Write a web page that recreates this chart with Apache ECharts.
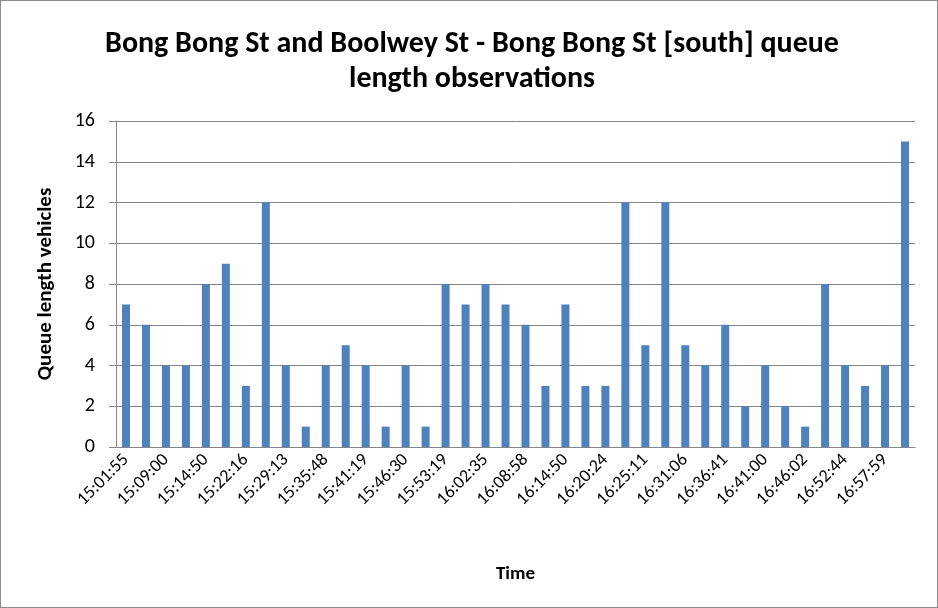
<!DOCTYPE html>
<html lang="en">
<head>
    <meta charset="UTF-8">
    <title>Bong Bong St queue length</title>
    <script src="https://cdn.jsdelivr.net/npm/echarts@6.0.0/dist/echarts.min.js"></script>
    <style>
        html, body { margin: 0; padding: 0; background: #fff; }
        #chart { width: 938px; height: 608px; box-sizing: border-box; border: 1px solid #8c8c8c; }
    </style>
</head>
<body>
    <div id="chart"></div>
    <script>
        // visible time labels (every second observation is labelled)
        const shownTimes = ['15:01:55', '15:09:00', '15:14:50', '15:22:16', '15:29:13', '15:35:48',
            '15:41:19', '15:46:30', '15:53:19', '16:02:35', '16:08:58', '16:14:50', '16:20:24',
            '16:25:11', '16:31:06', '16:36:41', '16:41:00', '16:46:02', '16:52:44', '16:57:59'];

        const queueLength = [7, 6, 4, 4, 8, 9, 3, 12, 4, 1, 4, 5, 4, 1, 4, 1, 8, 7, 8, 7,
            6, 3, 7, 3, 3, 12, 5, 12, 5, 4, 6, 2, 4, 2, 1, 8, 4, 3, 4, 15];

        const yTicks = [0, 2, 4, 6, 8, 10, 12, 14, 16];

        // unlabelled observations get an empty category name
        const categories = queueLength.map((v, i) => (i % 2 === 0 ? shownTimes[i / 2] : ''));

        const font = 'Carlito, "Liberation Sans", Arial, sans-serif';
        const chart = echarts.init(document.getElementById('chart'));

        chart.setOption({
            animation: false,
            title: {
                text: 'Bong Bong St and Boolwey St - Bong Bong St [south] queue\nlength observations',
                left: 466,
                textAlign: 'center',
                top: 21,
                textStyle: { fontFamily: font, fontSize: 30, fontWeight: 'bold', color: '#000', lineHeight: 35 }
            },
            grid: { left: 115, right: 22, top: 120, bottom: 160, containLabel: false },
            xAxis: {
                type: 'category',
                data: categories,
                name: 'Time',
                nameLocation: 'middle',
                nameGap: 118,
                nameTextStyle: { fontFamily: font, fontSize: 19, fontWeight: 'bold', color: '#000' },
                axisLine: { lineStyle: { color: '#868686' } },
                axisTick: { show: false },
                axisLabel: {
                    interval: 1,
                    rotate: 45,
                    fontFamily: font,
                    fontSize: 18,
                    color: '#000',
                    margin: 10
                }
            },
            yAxis: {
                type: 'value',
                min: yTicks[0],
                max: yTicks[yTicks.length - 1],
                interval: 2,
                name: 'Queue length vehicles',
                nameLocation: 'middle',
                nameGap: 60,
                nameTextStyle: { fontFamily: font, fontSize: 21, fontWeight: 'bold', color: '#000' },
                axisLine: { show: true, lineStyle: { color: '#868686' } },
                axisTick: { show: true, length: 7, lineStyle: { color: '#868686' } },
                splitLine: { lineStyle: { color: '#868686' } },
                axisLabel: { fontFamily: font, fontSize: 20, color: '#000', margin: 21 }
            },
            series: [{
                type: 'bar',
                data: queueLength,
                barWidth: 8,
                itemStyle: { color: '#4F81BD' }
            }]
        });
    </script>
</body>
</html>
